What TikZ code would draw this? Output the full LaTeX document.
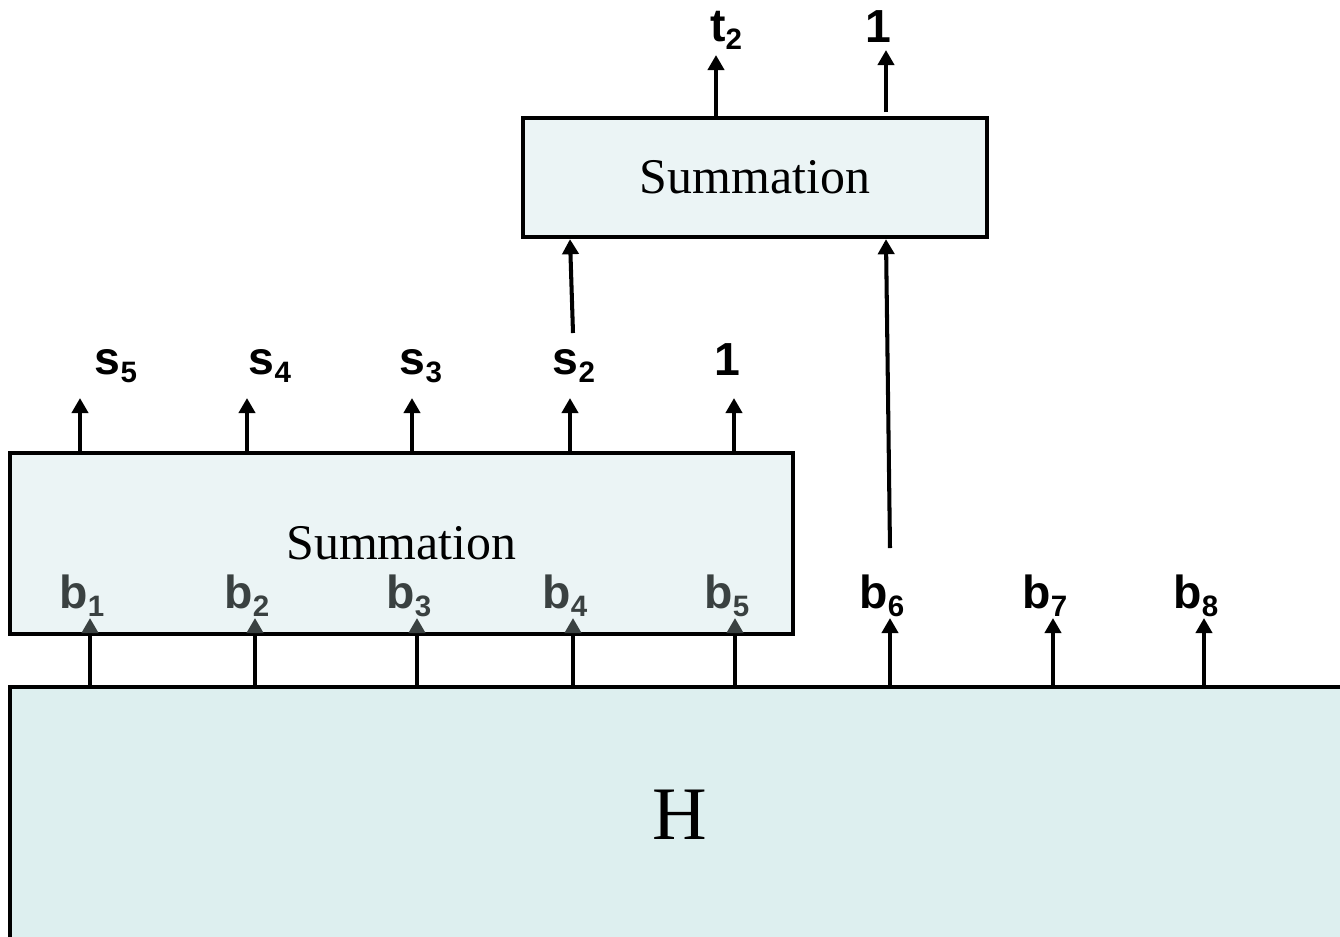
\documentclass[tikz,border=0pt]{standalone}
\usepackage{fontspec}
\setmainfont{Liberation Serif}
\newfontfamily\labfont{Liberation Sans}
\usetikzlibrary{arrows.meta}

\definecolor{sumfill}{HTML}{EBF4F5}
\definecolor{hfill}{HTML}{DDEFEF}
\definecolor{dimgray}{HTML}{3A4141}

% bold letter with a lowered bold index
\newcommand{\bsub}[2]{#1\raisebox{-2.5pt}{\fontsize{8.4}{9}\selectfont\bfseries #2}}

\begin{document}
\begin{tikzpicture}[x=0.1mm,y=-0.1mm,
  blk/.style={draw,line width=1.2pt,inner sep=0pt},
  arrup/.style={line width=1.15pt,-{Triangle[width=4.6pt,length=4.3pt,color=#1]}},
  arrup/.default=black,
  lab/.style={font=\labfont\fontsize{13.2}{15}\selectfont\bfseries,inner sep=0pt,anchor=base}]
\def\u{0.1mm}
\useasboundingbox (0,0) rectangle (1340,936);

\node[blk,fill=hfill,minimum width=1340*\u,minimum height=256*\u,font=\fontsize{21.5}{24}\selectfont] (H) at (680,815) {H};
\node[blk,fill=sumfill,minimum width=783*\u,minimum height=181*\u,font=\fontsize{14.2}{16}\selectfont] (sum1) at (401.5,543.5) {Summation};
\node[blk,fill=sumfill,minimum width=464*\u,minimum height=119*\u,font=\fontsize{14.2}{16}\selectfont] (sum2) at (755,177.5) {Summation};

% inputs coming out of H
\foreach \i/\x/\c in {1/90/dimgray, 2/255/dimgray, 3/417/dimgray, 4/573/dimgray, 5/735/dimgray, 6/890/black, 7/1053/black, 8/1204/black} {
  \coordinate (btip\i) at (\x,618);
  \node[lab,text=\c] (b\i) at (\x-8,608) {\bsub{b}{\i}};
  \draw[arrup=\c] (H.north -| btip\i) -- (btip\i);
}

% outputs of the first summation
\foreach \i/\x/\lx in {5/80/116, 4/247/270, 3/412/421, 2/570/574} {
  \coordinate (stip\i) at (\x,398);
  \node[lab] (s\i) at (\lx,374) {\bsub{s}{\i}};
  \draw[arrup] (sum1.north -| stip\i) -- (stip\i);
}
\coordinate (onetip) at (734,398);
\node[lab] (one) at (727,375) {1};
\draw[arrup] (sum1.north -| onetip) -- (onetip);

% outputs of the second summation
\coordinate (ttip) at (716,55);
\node[lab] (t2) at (726,41) {\bsub{t}{2}};
\draw[arrup] (sum2.north -| ttip) -- (ttip);
\coordinate (onebase) at (886,112);
\coordinate (onetop) at (886,50);
\node[lab] (one2) at (878,42) {1};
\draw[arrup] (onebase) -- (onetop);

% feeding s2 and b6 into the second summation
\coordinate (sfrom) at (573,333);
\coordinate (bfrom) at (890,548);
\draw[arrup] (sfrom) -- (sum2.south -| 570,0);
\draw[arrup] (bfrom) -- (sum2.south -| 886,0);
\end{tikzpicture}
\end{document}
